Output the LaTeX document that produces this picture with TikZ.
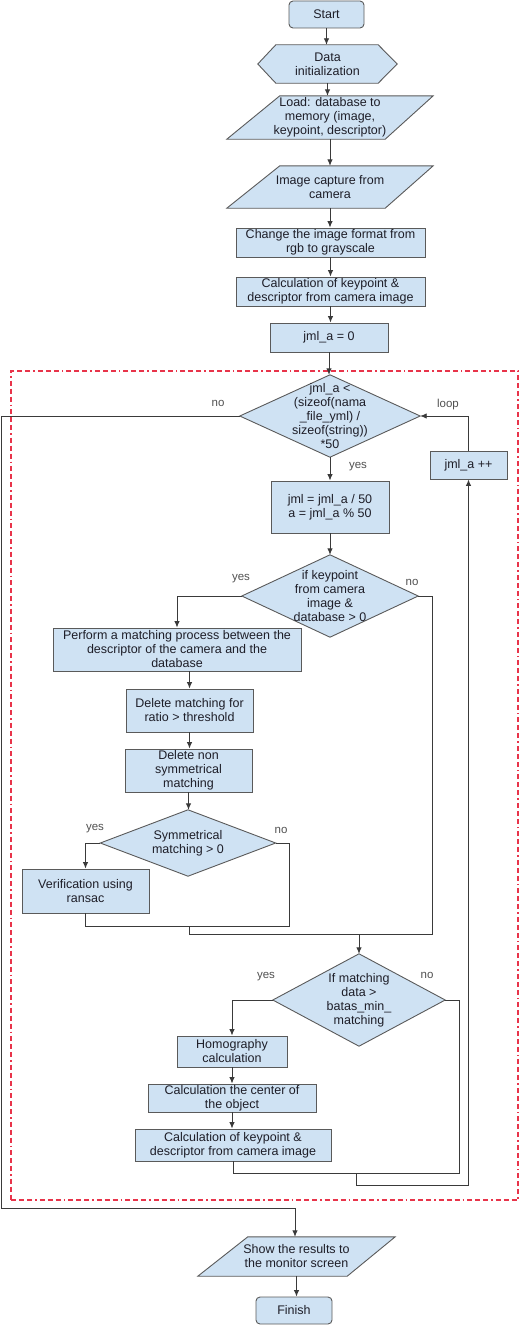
\documentclass[tikz,border=0pt]{standalone}
\usepackage{fontspec}
\setmainfont{Liberation Sans}
\usetikzlibrary{arrows.meta,calc}
\definecolor{fillc}{HTML}{CFE2F3}
\definecolor{bordc}{HTML}{5A5A5A}
\definecolor{linec}{HTML}{3A3A3A}
\definecolor{textc}{HTML}{1E1E28}
\definecolor{lblc}{HTML}{505050}
\definecolor{redc}{HTML}{E8344A}
\pgfdeclarelayer{bg}
\pgfsetlayers{bg,main}
\tikzset{
  txt/.style={align=center, text=textc, inner sep=0pt, font=\fontsize{12.5}{14}\selectfont},
  box/.style={txt, rectangle, draw=bordc, fill=fillc, line width=0.9pt},
  term/.style={box, rounded corners=4pt},
  ghost/.style={txt, rectangle},
  shp/.style={draw=bordc, fill=fillc, line width=0.9pt, line join=miter},
  conn/.style={draw=linec, line width=0.9pt},
  arr/.style={conn, -{Latex[length=6.5pt,width=5.5pt]}},
  lbl/.style={text=lblc, inner sep=0pt, font=\fontsize{11.5}{13}\selectfont},
  frame/.style={draw=redc, line width=1.4pt, rectangle, inner sep=0pt,
     dash pattern=on 5pt off 3pt on 5pt off 3pt on 5pt off 3pt on 1.5pt off 3pt}
}
\begin{document}
\begin{tikzpicture}[x=1pt,y=-1pt]
\useasboundingbox (0,0) rectangle (520,1330);

% loop frame
\node[frame, minimum width=507pt, minimum height=829pt] (loopframe) at (264.5,785.5) {};

% top column
\node[term, minimum width=75pt, minimum height=27pt] (start) at (326.5,14.5) {Start};
\node[ghost, minimum width=139pt, minimum height=38pt] (init) at (327.5,64) {Data\\initialization};
\node[ghost, minimum width=206pt, minimum height=43pt] (load) at (330,117.5) {Load: database to\\memory (image,\\keypoint, descriptor)};
\node[ghost, minimum width=206pt, minimum height=42pt] (cap) at (330,187) {Image capture from\\camera};
\node[box, minimum width=189pt, minimum height=29pt] (gray) at (330.5,242.5) {Change the image format from\\rgb to grayscale};
\node[box, minimum width=189pt, minimum height=29pt] (calc1) at (330.5,291.5) {Calculation of keypoint \&\\descriptor from camera image};
\node[box, minimum width=118pt, minimum height=29pt] (jml0) at (329,337.5) {jml\_a = 0};

% loop
\node[ghost, minimum width=180pt, minimum height=82pt] (d1) at (330,416) {jml\_a <\\(sizeof(nama\\\_file\_yml) /\\sizeof(string))\\*50};
\node[box, minimum width=118pt, minimum height=52pt] (jml) at (330,507) {jml = jml\_a / 50\\a = jml\_a \% 50};
\node[box, minimum width=77pt, minimum height=28pt] (inc) at (468.5,465) {jml\_a ++};
\node[ghost, minimum width=176pt, minimum height=82pt] (d2) at (330,596) {if keypoint\\from camera\\image \&\\database > 0};
\node[box, minimum width=248pt, minimum height=43pt] (match) at (177,649.5) {Perform a matching process between the\\descriptor of the camera and the\\database};
\node[box, minimum width=127pt, minimum height=43pt] (ratio) at (189.5,710.5) {Delete matching for\\ratio > threshold};
\node[box, minimum width=127pt, minimum height=43pt] (nonsym) at (188.5,770.5) {Delete non\\symmetrical\\matching};
\node[ghost, minimum width=175pt, minimum height=66pt] (d3) at (188,843) {Symmetrical\\matching > 0};
\node[box, minimum width=127pt, minimum height=44pt] (ransac) at (85.5,891) {Verification using\\ransac};
\node[ghost, minimum width=172pt, minimum height=92pt] (d4) at (359,1000) {If matching\\data >\\batas\_min\_\\matching};
\node[box, minimum width=110pt, minimum height=31pt] (homo) at (232,1051.5) {Homography\\calculation};
\node[box, minimum width=168pt, minimum height=28pt] (center) at (232,1098) {Calculation the center of\\the object};
\node[box, minimum width=196pt, minimum height=32pt] (calc2) at (233,1145) {Calculation of keypoint \&\\descriptor from camera image};

% bottom
\node[ghost, minimum width=197pt, minimum height=39pt] (show) at (296.5,1256.5) {Show the results to\\the monitor screen};
\node[term, minimum width=76pt, minimum height=27pt] (finish) at (294,1310.5) {Finish};

% shapes on background
\begin{pgfonlayer}{bg}
\draw[shp] (init.west) -- ($(init.north west)+(18,0)$) -- ($(init.north east)-(19,0)$) -- (init.east)
  -- ($(init.south east)-(19,0)$) -- ($(init.south west)+(18,0)$) -- cycle;
\draw[shp] (load.south west) -- ($(load.north west)+(53,0)$) -- (load.north east) -- ($(load.south east)-(48,0)$) -- cycle;
\draw[shp] (cap.south west) -- ($(cap.north west)+(53,0)$) -- (cap.north east) -- ($(cap.south east)-(48,0)$) -- cycle;
\draw[shp] (show.south west) -- ($(show.north west)+(50,0)$) -- (show.north east) -- ($(show.south east)-(48,0)$) -- cycle;
\foreach \d in {d1,d2,d3,d4}{
  \draw[shp] (\d.north) -- (\d.east) -- (\d.south) -- (\d.west) -- cycle;
}
\end{pgfonlayer}

% junction coordinates
\coordinate (leftrail) at (1,416);
\coordinate (j1) at (289,926);
\coordinate (j2) at (189,934);
\coordinate (j2r) at (432,934);
\coordinate (j3) at (459,1173);
\coordinate (j4) at (356,1185);
\coordinate (j5) at (295,1208);

% connectors
\draw[arr] (start.south) -- (start.south |- init.north);
\draw[arr] (init.south) -- (init.south |- load.north);
\draw[arr] (load.south) -- (load.south |- cap.north);
\draw[arr] (cap.south) -- (cap.south |- gray.north);
\draw[arr] (gray.south) -- (gray.south |- calc1.north);
\draw[arr] (calc1.south) -- (calc1.south |- jml0.north);
\draw[arr] (jml0.south) -- (jml0.south |- d1.north);
\draw[arr] (d1.south) -- (jml.north);
\draw[arr] (jml.south) -- (d2.north);
\draw[arr] (d2.west) -| (match.north);
\draw[conn] (d2.east) -| (j2r) -- (j2);
\draw[arr] (ratio.north |- match.south) -- (ratio.north);
\draw[arr] (ratio.south) -- (ratio.south |- nonsym.north);
\draw[arr] (nonsym.south) -- (nonsym.south |- d3.north);
\draw[arr] (d3.west) -| (ransac.north);
\draw[conn] (d3.east) -| (j1) -- (ransac.south |- j1) -- (ransac.south);
\draw[conn] (j2 |- j1) -- (j2);
\draw[arr] (d4.north |- j2) -- (d4.north);
\draw[arr] (d4.west) -| (homo.north);
\draw[arr] (homo.south) -- (homo.south |- center.north);
\draw[arr] (center.south) -- (center.south |- calc2.north);
\draw[conn] (d4.east) -| (j3) -- (calc2.south |- j3) -- (calc2.south);
\draw[conn] (j4 |- j3) -- (j4);
\draw[arr] (j4) -| (inc.south);
\draw[arr] (inc.north) |- (d1.east);
\draw[conn] (d1.west) -- (leftrail) |- (j5);
\draw[arr] (j5) -- (j5 |- show.north);
\draw[arr] (show.south) -- (show.south |- finish.north);

% labels
\node[lbl] (l1) at (218,403) {no};
\node[lbl] (l2) at (448,405) {loop};
\node[lbl] (l3) at (358,467) {yes};
\node[lbl] (l4) at (241,579) {yes};
\node[lbl] (l5) at (412,582) {no};
\node[lbl] (l6) at (95,829) {yes};
\node[lbl] (l7) at (281,830) {no};
\node[lbl] (l8) at (266,977) {yes};
\node[lbl] (l9) at (427,975) {no};
\end{tikzpicture}
\end{document}
